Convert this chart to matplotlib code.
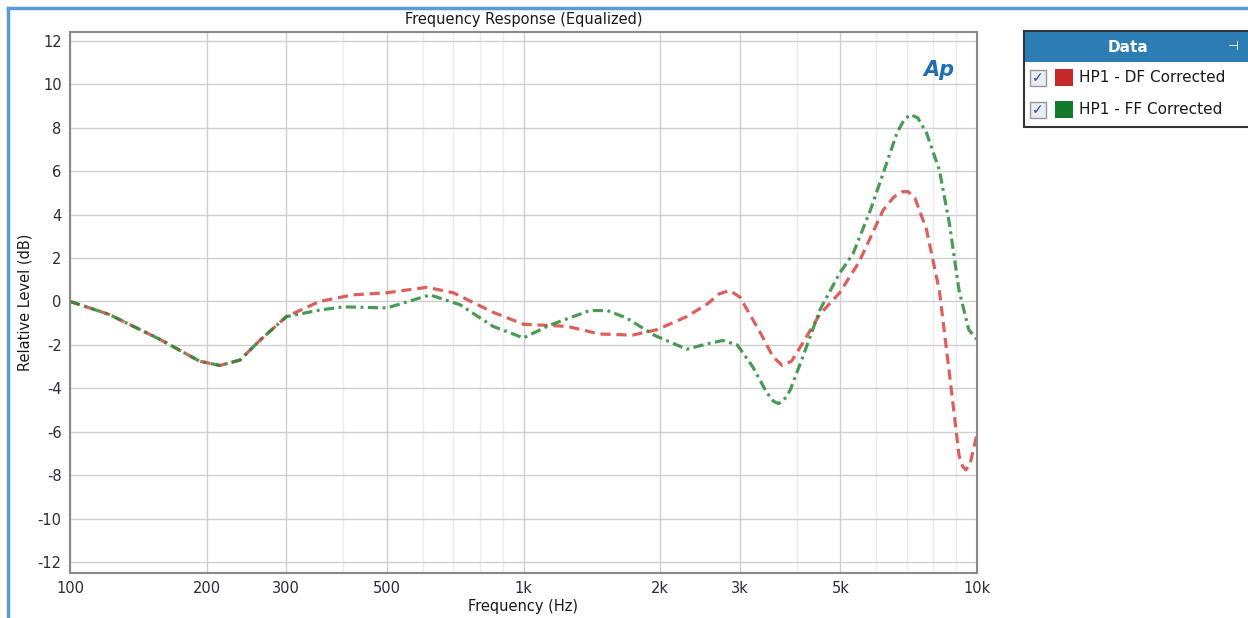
import matplotlib.pyplot as plt
import matplotlib.patches as mpatches
from matplotlib.ticker import FixedLocator, FixedFormatter, NullFormatter
import numpy as np

# HP1 - DF Corrected (red, dashed)
df_freq = [100, 122, 158, 193, 214, 237, 262, 300, 355, 420, 500, 612, 700, 857,
           1000, 1250, 1470, 1740, 1970, 2290, 2550, 2700, 2850, 3000, 3330, 3550, 3720,
           3900, 4050, 4500, 4980, 5490, 6210, 6550, 6850, 7050, 7300, 7740, 8260, 8690,
           9130, 9300, 9450, 9650, 10000]
df_db = [0, -0.6, -1.75, -2.75, -2.95, -2.7, -1.8, -0.7, 0.0, 0.3, 0.4, 0.65, 0.4, -0.5,
         -1.05, -1.15, -1.5, -1.55, -1.3, -0.7, -0.1, 0.35, 0.5, 0.2, -1.45, -2.55, -2.95,
         -2.75, -2.2, -0.6, 0.4, 1.8, 4.2, 4.8, 5.05, 5.05, 4.75, 3.3, 0.5, -3.3,
         -7.1, -7.6, -7.75, -7.5, -6.1]

# HP1 - FF Corrected (green, dash-dot)
ff_freq = [100, 122, 158, 193, 214, 237, 262, 300, 355, 400, 500, 622, 724, 857,
           1000, 1140, 1400, 1530, 1690, 1940, 2290, 2600, 2750, 2960, 3200, 3440, 3560,
           3650, 3750, 3870, 4130, 4500, 4980, 5330, 5820, 6210, 6660, 6900, 7130, 7400,
           7740, 8260, 8690, 9130, 9590, 10000]
ff_db = [0, -0.6, -1.75, -2.75, -2.95, -2.7, -1.8, -0.7, -0.4, -0.25, -0.3, 0.3, -0.15, -1.15,
         -1.68, -1.1, -0.42, -0.42, -0.77, -1.55, -2.2, -1.9, -1.8, -2.0, -3.0, -4.2, -4.6,
         -4.7, -4.55, -4.1, -2.55, -0.4, 1.3, 2.2, 4.2, 5.9, 7.75, 8.35, 8.6, 8.45,
         7.75, 6.05, 3.6, 0.5, -1.3, -1.75]

x_major = [100, 200, 300, 500, 1000, 2000, 3000, 5000, 10000]
x_labels = ['100', '200', '300', '500', '1k', '2k', '3k', '5k', '10k']
x_minor = [400, 600, 700, 800, 900, 4000, 6000, 7000, 8000, 9000]
y_ticks = np.arange(-12, 13, 2)

W, H = 1248, 618
fig = plt.figure(figsize=(W / 100, H / 100), dpi=100)
fig.patch.set_facecolor('white')

def fx(px):
    return px / W

def fy(py):
    return 1 - py / H

ax = fig.add_axes([fx(70), fy(573), fx(977) - fx(70), fy(32) - fy(573)])
ax.set_xscale('log')
ax.set_xlim(100, 10000)
ax.set_ylim(-12.5, 12.4)

ax.xaxis.set_major_locator(FixedLocator(x_major))
ax.xaxis.set_major_formatter(FixedFormatter(x_labels))
ax.xaxis.set_minor_locator(FixedLocator(x_minor))
ax.xaxis.set_minor_formatter(NullFormatter())
ax.set_yticks(y_ticks)
ax.set_yticklabels([str(v) for v in y_ticks])

ax.grid(which='major', color='#d0d0d0', linewidth=1.0)
ax.grid(which='minor', axis='x', color='#ebebeb', linewidth=1.0)
ax.set_axisbelow(True)
ax.tick_params(which='both', length=0, labelsize=10.5, colors='#2b2b3b', pad=6)

for s in ax.spines.values():
    s.set_color('#8a8a8a')
    s.set_linewidth(1.5)

ax.plot(df_freq, df_db, color='#d64541', linewidth=2.3, alpha=0.85,
        dashes=(3.2, 1.8))
ax.plot(ff_freq, ff_db, color='#2a8a38', linewidth=2.3, alpha=0.85,
        dashes=(3.2, 1.4, 0.9, 1.4))

ax.set_title('Frequency Response (Equalized)', fontsize=10.5, color='#1a1a1a', pad=6)
ax.set_xlabel('Frequency (Hz)', fontsize=10.5, color='#1a1a1a', labelpad=2)
ax.set_ylabel('Relative Level (dB)', fontsize=10.5, color='#1a1a1a', labelpad=4)

# AP logo
ax.text(0.958, 0.93, 'Ap', transform=ax.transAxes, fontsize=15, fontweight='bold',
        fontstyle='italic', color='#1f6fb5', ha='center', va='center')

# outer blue frame
fig.add_artist(plt.Line2D([fx(8), fx(8)], [0, fy(8)], color='#5b9bd5', linewidth=2.5))
fig.add_artist(plt.Line2D([fx(8), 1], [fy(8), fy(8)], color='#5b9bd5', linewidth=2.5))

# legend panel
fig.add_artist(mpatches.Rectangle((fx(1024), fy(127)), fx(1250) - fx(1024), fy(31) - fy(127),
                                  facecolor='white', edgecolor='#333333', linewidth=1.5))
fig.add_artist(mpatches.Rectangle((fx(1025), fy(62)), fx(1250) - fx(1025), fy(32) - fy(62),
                                  facecolor='#2b7db3', edgecolor='none'))
fig.text(fx(1128), fy(47), 'Data', color='white', fontsize=11, fontweight='bold',
         ha='center', va='center')
fig.text(fx(1233), fy(46), '⊣', color='white', fontsize=9, ha='center', va='center')

legend_names = ['HP1 - DF Corrected', 'HP1 - FF Corrected']
legend_colors = ['#c42828', '#137a2a']
for i, (name, col) in enumerate(zip(legend_names, legend_colors)):
    yc = 78 + i * 32
    fig.add_artist(mpatches.Rectangle((fx(1030), fy(yc + 8)), fx(16), 16 / H,
                                      facecolor='#e8ecf4', edgecolor='#999999', linewidth=1))
    fig.text(fx(1038), fy(yc), '✓', color='#2b4a8a', fontsize=10, ha='center', va='center')
    fig.add_artist(mpatches.Rectangle((fx(1055), fy(yc + 8)), fx(18), 17 / H,
                                      facecolor=col, edgecolor='none'))
    fig.text(fx(1079), fy(yc), name, color='#1a1a1a', fontsize=11, ha='left', va='center')

fig.savefig('out.png', dpi=100)
